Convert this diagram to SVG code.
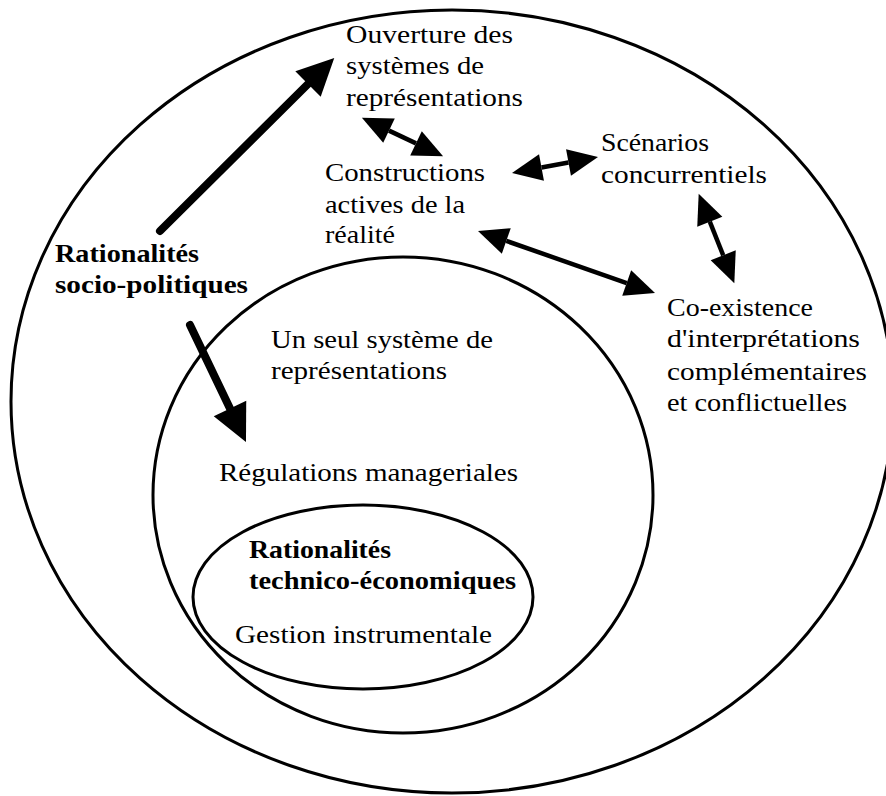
<svg xmlns="http://www.w3.org/2000/svg" width="886" height="796" viewBox="0 0 886 796">
  <style>
    .ring { fill: none; stroke: #000; stroke-width: 3; }
    .lbl { font-family: "Liberation Serif", "Times New Roman", serif; font-size: 26px; fill: #000; }
    .bold { font-weight: bold; }
    .thick { stroke: #000; stroke-width: 8; fill: none; stroke-linecap: round; }
    .thin { stroke: #000; stroke-width: 4.5; fill: none; }
  </style>
  <defs>
    <marker id="headBig" markerUnits="userSpaceOnUse" viewBox="0 0 37 36" refX="0" refY="18" markerWidth="37" markerHeight="36" orient="auto-start-reverse" overflow="visible">
      <path d="M0,0 L37,18 L0,36 z" fill="#000"/>
    </marker>
    <marker id="headSmall" markerUnits="userSpaceOnUse" viewBox="0 0 30 27" refX="0" refY="13.5" markerWidth="30" markerHeight="27" orient="auto-start-reverse" overflow="visible">
      <path d="M0,0 L30,13.5 L0,27 z" fill="#000"/>
    </marker>
  </defs>

  <rect width="886" height="796" fill="#fff"/>

  <!-- nested domains -->
  <g id="outer-domain">
    <ellipse class="ring" cx="452" cy="401.5" rx="441" ry="391.5"/>
  </g>
  <g id="middle-domain">
    <ellipse class="ring" cx="403" cy="495" rx="250" ry="238"/>
  </g>
  <g id="inner-domain">
    <ellipse class="ring" cx="363" cy="597" rx="170" ry="92"/>
  </g>

  <!-- labels -->
  <g id="ouverture" class="lbl">
    <text x="346" y="43" textLength="167" lengthAdjust="spacingAndGlyphs">Ouverture des</text>
    <text x="346" y="74" textLength="138" lengthAdjust="spacingAndGlyphs">systèmes de</text>
    <text x="346" y="106" textLength="177" lengthAdjust="spacingAndGlyphs">représentations</text>
  </g>
  <g id="constructions" class="lbl">
    <text x="325" y="181" textLength="160" lengthAdjust="spacingAndGlyphs">Constructions</text>
    <text x="325" y="213" textLength="140" lengthAdjust="spacingAndGlyphs">actives de la</text>
    <text x="325" y="243" textLength="70" lengthAdjust="spacingAndGlyphs">réalité</text>
  </g>
  <g id="scenarios" class="lbl">
    <text x="601" y="151" textLength="108" lengthAdjust="spacingAndGlyphs">Scénarios</text>
    <text x="601" y="183" textLength="166" lengthAdjust="spacingAndGlyphs">concurrentiels</text>
  </g>
  <g id="socio-politiques" class="lbl bold">
    <text x="55" y="262" textLength="144" lengthAdjust="spacingAndGlyphs">Rationalités</text>
    <text x="55" y="293" textLength="193" lengthAdjust="spacingAndGlyphs">socio-politiques</text>
  </g>
  <g id="coexistence" class="lbl">
    <text x="667" y="316" textLength="146" lengthAdjust="spacingAndGlyphs">Co-existence</text>
    <text x="667" y="347" textLength="193" lengthAdjust="spacingAndGlyphs">d'interprétations</text>
    <text x="667" y="380" textLength="200" lengthAdjust="spacingAndGlyphs">complémentaires</text>
    <text x="667" y="411" textLength="180" lengthAdjust="spacingAndGlyphs">et conflictuelles</text>
  </g>
  <g id="systeme-unique" class="lbl">
    <text x="271" y="348" textLength="222" lengthAdjust="spacingAndGlyphs">Un seul système de</text>
    <text x="271" y="379" textLength="176" lengthAdjust="spacingAndGlyphs">représentations</text>
  </g>
  <g id="regulations" class="lbl">
    <text x="219" y="481" textLength="299" lengthAdjust="spacingAndGlyphs">Régulations manageriales</text>
  </g>
  <g id="technico-economiques" class="lbl">
    <text class="bold" x="249" y="558" textLength="142" lengthAdjust="spacingAndGlyphs">Rationalités</text>
    <text class="bold" x="249" y="589" textLength="267" lengthAdjust="spacingAndGlyphs">technico-économiques</text>
    <text x="235" y="643" textLength="257" lengthAdjust="spacingAndGlyphs">Gestion instrumentale</text>
  </g>

  <!-- connectors -->
  <g id="connectors">
    <line class="thick" x1="160" y1="231" x2="308" y2="84" marker-end="url(#headBig)"/>
    <line class="thick" x1="190" y1="325" x2="230" y2="408.6" marker-end="url(#headBig)"/>
    <line class="thin" x1="389" y1="130.6" x2="416" y2="143.4" marker-start="url(#headSmall)" marker-end="url(#headSmall)"/>
    <line class="thin" x1="541.5" y1="167.5" x2="568.5" y2="162.5" marker-start="url(#headSmall)" marker-end="url(#headSmall)"/>
    <line class="thin" x1="709.8" y1="221.7" x2="723.2" y2="255.3" marker-start="url(#headSmall)" marker-end="url(#headSmall)"/>
    <line class="thin" x1="506.3" y1="240.9" x2="626.7" y2="283.1" marker-start="url(#headSmall)" marker-end="url(#headSmall)"/>
  </g>
</svg>
